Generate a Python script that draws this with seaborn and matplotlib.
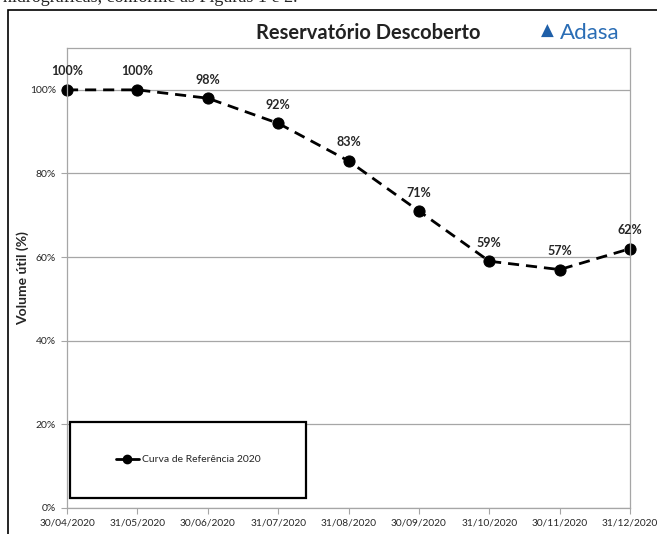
import numpy as np
import pandas as pd
import seaborn as sns
import matplotlib.pyplot as plt
from matplotlib.lines import Line2D
from matplotlib.patches import Rectangle

# data
datas = ["30/04/2020", "31/05/2020", "30/06/2020", "31/07/2020", "31/08/2020",
         "30/09/2020", "31/10/2020", "30/11/2020", "31/12/2020"]
volume = [100, 100, 98, 92, 83, 71, 59, 57, 62]
rotulos = ["100%", "100%", "98%", "92%", "83%", "71%", "59%", "57%", "62%"]
yticks = [0, 20, 40, 60, 80, 100]

df = pd.DataFrame({"pos": np.arange(len(datas)), "volume": volume})

sns.set_style("white")
plt.rcParams["font.family"] = ["Lato", "DejaVu Sans"]

fig = plt.figure(figsize=(6.57, 5.34), dpi=100)
ax = fig.add_axes([0.102, 0.049, 0.857, 0.861])

sns.lineplot(data=df, x="pos", y="volume", ax=ax, color="black",
             linestyle=(0, (4, 2.5)), linewidth=2, marker="o", markersize=8,
             markeredgecolor="black", clip_on=False, legend=False)

for i, (v, t) in enumerate(zip(volume, rotulos)):
    ax.annotate(t, (i, v), xytext=(0, 9), textcoords="offset points",
                ha="center", va="bottom", fontsize=9, fontweight="bold")

ax.set_xlim(0, len(datas) - 1)
ax.set_ylim(0, 110)
ax.set_xticks(df["pos"])
ax.set_xticklabels(datas, fontsize=7.3)
ax.set_yticks(yticks)
ax.set_yticklabels([f"{t}%" for t in yticks], fontsize=7.5)
ax.set_xlabel("")
ax.set_ylabel("Volume útil (%)", fontsize=10, fontweight="bold")
ax.yaxis.set_label_coords(-0.068, 0.5)
ax.yaxis.grid(True, color="#a6a6a6", linewidth=0.9)
ax.tick_params(axis="both", direction="out", length=4, width=0.8,
               color="#a6a6a6", pad=4, left=True, bottom=True)
for s in ax.spines.values():
    s.set_color("#a6a6a6")
    s.set_linewidth(0.9)

# legend box
ax.add_patch(Rectangle((0.005, 0.022), 0.42, 0.165, transform=ax.transAxes,
                       facecolor="white", edgecolor="black", linewidth=1.6,
                       zorder=5))
handle = Line2D([], [], color="black", linewidth=2, marker="o", markersize=6)
ax.legend([handle], ["Curva de Referência 2020"], loc="center",
          bbox_to_anchor=(0.215, 0.105), frameon=False, fontsize=7.5,
          handlelength=2.2, handletextpad=0.3).set_zorder(6)

# title and logo
fig.text(0.56, 0.938, "Reservatório Descoberto", ha="center", va="center",
         fontsize=14.5, fontweight="bold", color="#222222")
fig.text(0.833, 0.942, "\u25b2", ha="center", va="center", fontsize=12,
         color="#1f5fa8")
fig.text(0.852, 0.938, "Adasa", ha="left", va="center", fontsize=16,
         color="#2a6db5")

# outer frame and cut-off text above it
fig.add_artist(Rectangle((0.012, -0.01), 1.0, 0.991, transform=fig.transFigure,
                         facecolor="none", edgecolor="black", linewidth=1.2))
fig.text(0.005, 1.006, "hidrográficas, conforme as Figuras 1 e 2.", ha="left",
         va="center", fontsize=13, family=["Liberation Serif"])

fig.savefig("out.png", dpi=100)
